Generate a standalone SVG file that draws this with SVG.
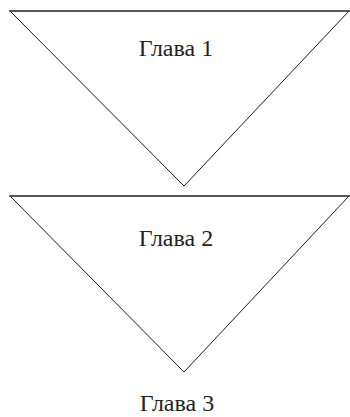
<svg xmlns="http://www.w3.org/2000/svg" width="350" height="417" viewBox="0 0 350 417">
  <style>
    .tri { fill: #ffffff; stroke: #1a1a1a; stroke-width: 1; stroke-linejoin: miter; }
    .top { stroke: #444444; stroke-width: 1.6; }
    .lbl { font-family: "Liberation Serif", "Times New Roman", serif; font-size: 24px; fill: #222222; text-anchor: middle; }
  </style>
  <rect width="350" height="417" fill="#ffffff"/>
  <g id="chapter1">
    <polygon class="tri" points="10,11 349,11 184,186"/>
    <line class="top" x1="9" y1="11" x2="350" y2="11"/>
    <text class="lbl" x="176" y="56">Глава 1</text>
  </g>
  <g id="chapter2">
    <polygon class="tri" points="10,196 349,196 184,372"/>
    <line class="top" x1="9" y1="196" x2="350" y2="196"/>
    <text class="lbl" x="176" y="246">Глава 2</text>
  </g>
  <g id="chapter3">
    <text class="lbl" x="177" y="411">Глава 3</text>
  </g>
  <g id="connectors"></g>
</svg>
